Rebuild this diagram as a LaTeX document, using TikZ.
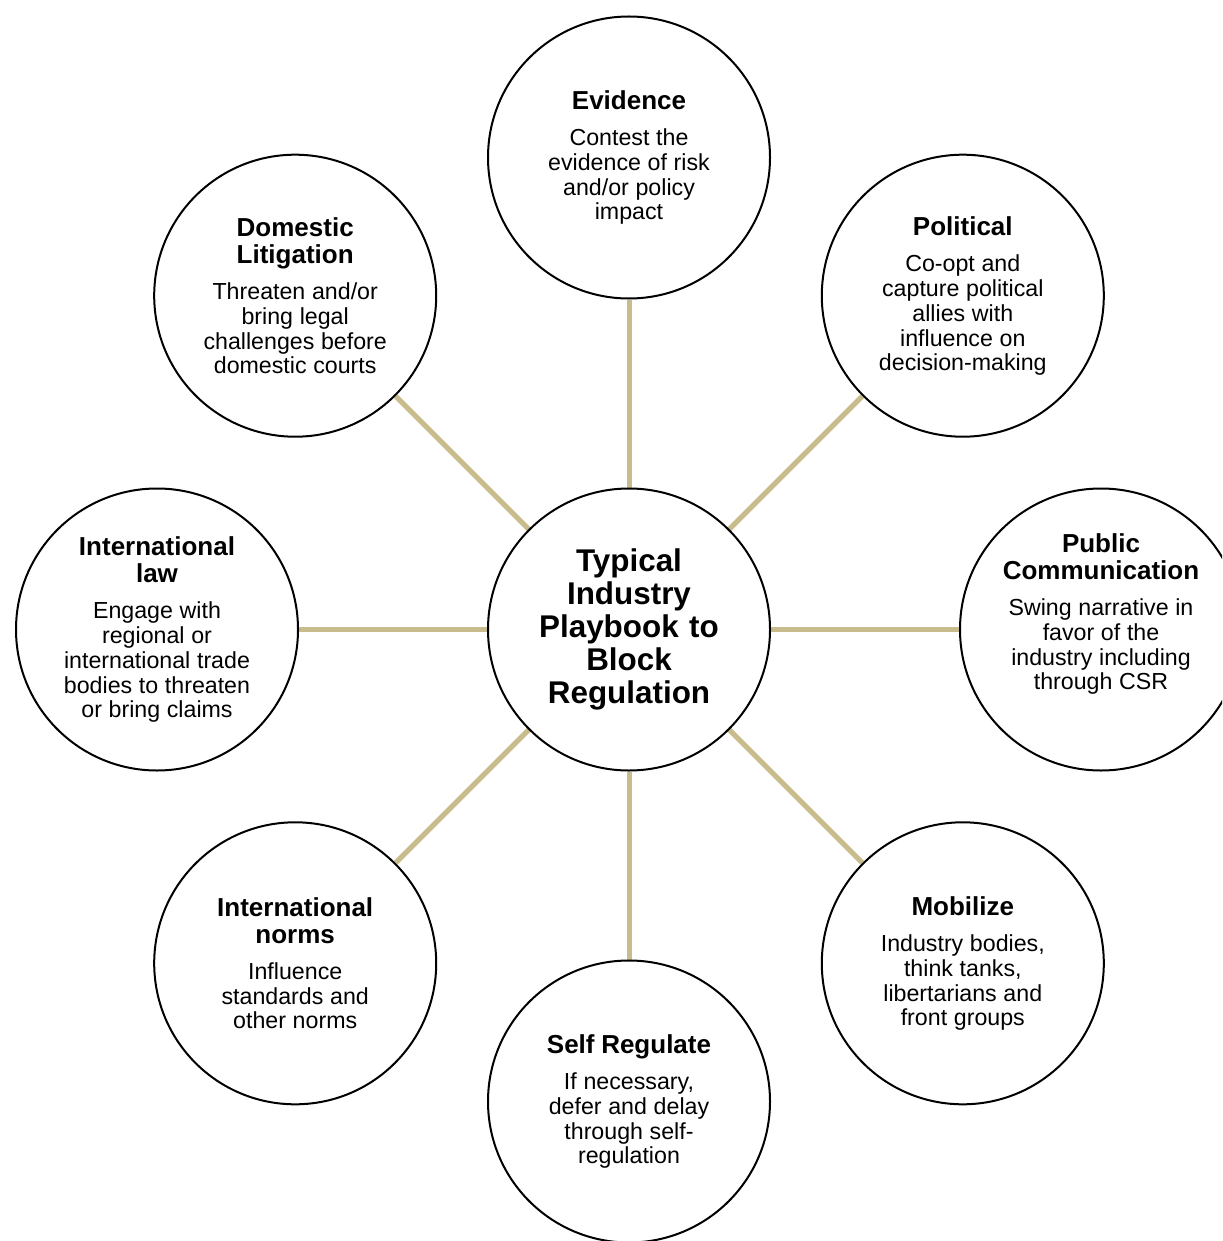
\documentclass[tikz,border=0pt]{standalone}
\usepackage{fontspec}
\setmainfont{Liberation Sans}
\usetikzlibrary{backgrounds,calc}
\definecolor{linktan}{RGB}{200,187,140}
\newcommand{\ttl}{\fontsize{13}{13.5}\selectfont\bfseries}
\newcommand{\bdy}{\par\vspace{5.5pt}\fontsize{11.6}{12.5}\selectfont\mdseries}
\tikzset{
  bubble/.style={circle, draw=black, line width=1pt, fill=white, minimum size=141pt, inner sep=0pt},
  bubtext/.style={align=center, text width=120pt, inner sep=0pt},
  hubtext/.style={align=center, text width=120pt, inner sep=0pt, font=\fontsize{15.7}{16.5}\selectfont\bfseries},
  link/.style={draw=linktan, line width=2.5pt}
}
\begin{document}
\begin{tikzpicture}[x=0.5pt, y=-0.5pt]
\useasboundingbox (0,0) rectangle (1222,1241);
\clip (0,0) rectangle (1222,1241);
\coordinate (c) at (629,629.5);
\node[bubble] (hub) at (c) {};
\node[bubble] (ev)  at ($(c)+(0,-472)$) {};
\node[bubble] (pol) at ($(c)+(333.8,-333.8)$) {};
\node[bubble] (pub) at ($(c)+(472,0)$) {};
\node[bubble] (mob) at ($(c)+(333.8,333.8)$) {};
\node[bubble] (self) at ($(c)+(0,472)$) {};
\node[bubble] (inorm) at ($(c)+(-333.8,333.8)$) {};
\node[bubble] (ilaw) at ($(c)+(-472,0)$) {};
\node[bubble] (dom) at ($(c)+(-333.8,-333.8)$) {};
\begin{pgfonlayer}{background}
\fill[white] (0,0) rectangle (1222,1241);
\foreach \n in {ev,pol,pub,mob,self,inorm,ilaw,dom}
  \draw[link] (hub) -- (\n);
\end{pgfonlayer}
\node[hubtext] (hubt) at (hub.center) {Typical\\Industry\\Playbook to\\Block\\Regulation};
\node[bubtext] (evt) at (ev.center) {\ttl Evidence\bdy Contest the\\evidence of risk\\and/or policy\\impact};
\node[bubtext] (polt) at (pol.center) {\ttl Political\bdy Co-opt and\\capture political\\allies with\\influence on\\decision-making};
\node[bubtext] (pubt) at ([yshift=8pt]pub.center) {\ttl Public\\Communication\bdy Swing narrative in\\favor of the\\industry including\\through CSR};
\node[bubtext] (mobt) at (mob.center) {\ttl Mobilize\bdy Industry bodies,\\think tanks,\\libertarians and\\front groups};
\node[bubtext] (selft) at (self.center) {\ttl Self Regulate\bdy If necessary,\\defer and delay\\through self-\\regulation};
\node[bubtext] (inormt) at (inorm.center) {\ttl International\\norms\bdy Influence\\standards and\\other norms};
\node[bubtext] (ilawt) at (ilaw.center) {\ttl International\\law\bdy Engage with\\regional or\\international trade\\bodies to threaten\\or bring claims};
\node[bubtext] (domt) at (dom.center) {\ttl Domestic\\Litigation\bdy Threaten and/or\\bring legal\\challenges before\\domestic courts};
\end{tikzpicture}
\end{document}
